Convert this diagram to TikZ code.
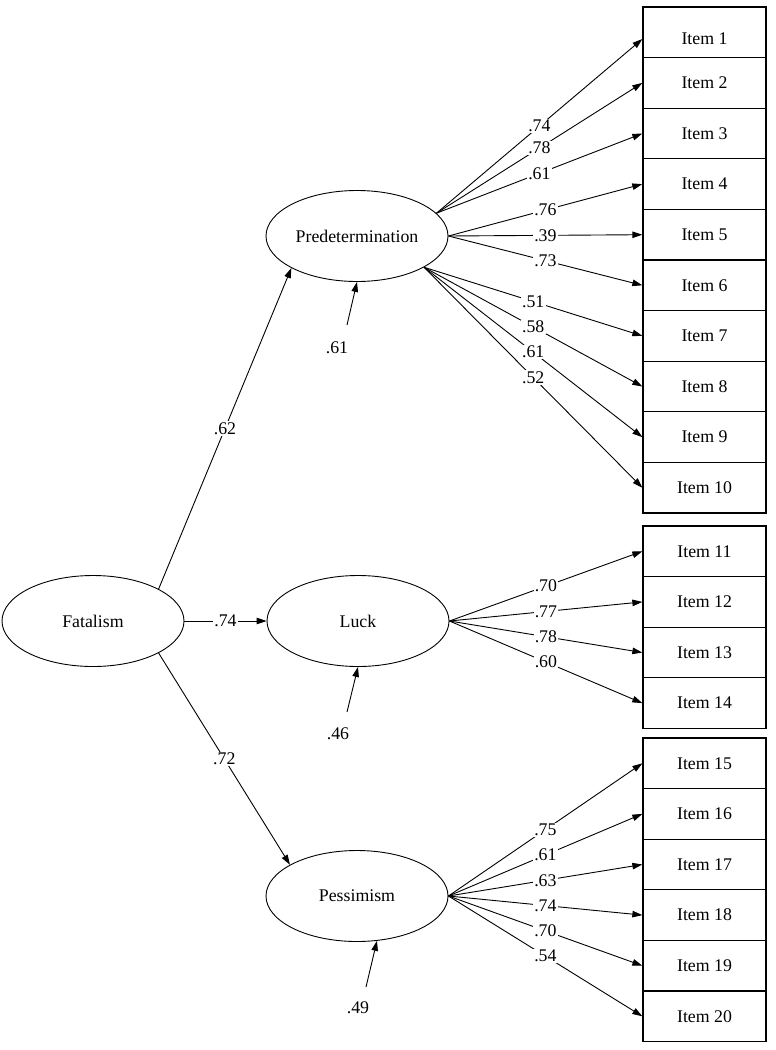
\documentclass[tikz,border=0pt]{standalone}
\usepackage{fontspec}
\setmainfont{Liberation Serif}
\usetikzlibrary{arrows.meta,shapes.geometric}
\begin{document}
\begin{tikzpicture}[x=1pt,y=-1pt,
  font=\fontsize{17.8}{21}\selectfont,
  latent/.style={ellipse,draw,line width=0.9pt,minimum width=182pt,minimum height=91pt,inner sep=0pt},
  item/.style={rectangle,draw,line width=1.3pt,minimum width=123pt,minimum height=50.6pt,inner sep=0pt},
  path/.style={line width=0.9pt,-{Triangle[length=10pt,width=6.5pt]}},
  coef/.style={fill=white,inner sep=1.2pt,midway},
  lbl/.style={inner sep=0pt}]
\useasboundingbox (0,0) rectangle (776,1050);

% latent variables
\node[latent] (fat)  at (93,621)  {Fatalism};
\node[latent] (pred) at (357,236) {Predetermination};
\node[latent] (luck) at (358,621) {Luck};
\node[latent] (pess) at (357,896) {Pessimism};

% items
\node[item] (i1) at (704.5,32.3) {};
\node[lbl] (t1) at (704.5,39) {Item 1};
\foreach \n in {2,...,10}
  \node[item] (i\n) at (704.5,{32.3+50.6*(\n-1)}) {Item \n};
\foreach \n in {11,...,14}
  \node[item] (i\n) at (704.5,{551.3+50.6*(\n-11)}) {Item \n};
\foreach \n in {15,...,20}
  \node[item] (i\n) at (704.5,{763.3+50.6*(\n-15)}) {Item \n};

% structural paths
\draw[path] (fat.26) -- node[coef]{.62} (pred.206.6);
\draw[path] (fat.east) -- node[coef]{.74} (luck.west);
\draw[path] (fat.-26) -- node[coef]{.72} (pess.155);

% residuals
\coordinate (r1) at (347,325);
\node[lbl] (e1) at (337,348) {.61};
\draw[path] (r1) -- (pred.south);
\coordinate (r2) at (347,712);
\node[lbl] (e2) at (338,734) {.46};
\draw[path] (r2) -- (luck.south);
\coordinate (r3) at (366,987);
\node[lbl] (e3) at (358,1008) {.49};
\draw[path] (r3) -- (pess.-66);

% loadings: Predetermination
\draw[path] (pred.16) -- node[coef]{.74} (i1.west |- t1);
\foreach \n/\c in {2/.78,3/.61}
  \draw[path] (pred.16) -- node[coef]{\c} (i\n.west);
\foreach \n/\c in {4/.76,5/.39,6/.73}
  \draw[path] (pred.east) -- node[coef]{\c} (i\n.west);
\foreach \n/\c in {7/.51,8/.58,9/.61,10/.52}
  \draw[path] (pred.-25.5) -- node[coef]{\c} (i\n.west);

% loadings: Luck
\foreach \n/\c in {11/.70,12/.77,13/.78,14/.60}
  \draw[path] (luck.east) -- node[coef]{\c} (i\n.west);

% loadings: Pessimism
\foreach \n/\c in {15/.75,16/.61,17/.63,18/.74,19/.70,20/.54}
  \draw[path] (pess.east) -- node[coef]{\c} (i\n.west);
\end{tikzpicture}
\end{document}
